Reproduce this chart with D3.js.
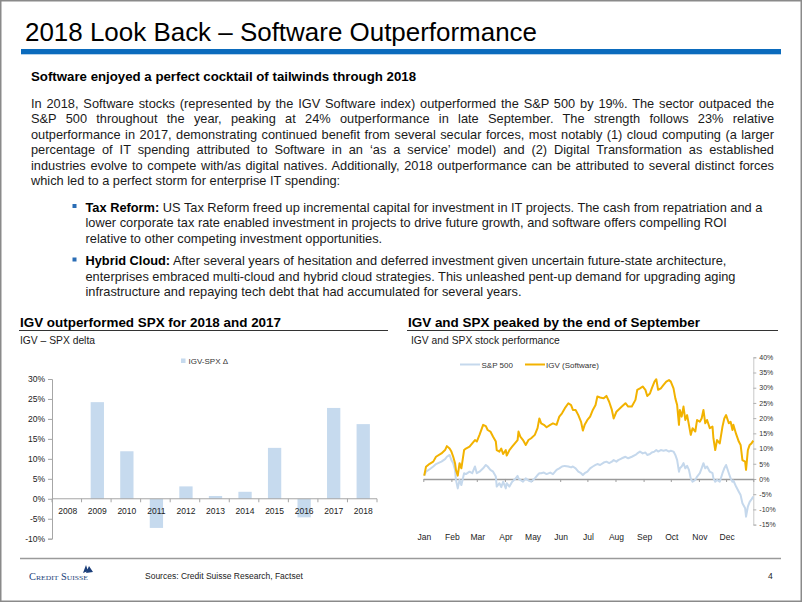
<!DOCTYPE html>
<html><head><meta charset="utf-8">
<script src="https://cdn.jsdelivr.net/npm/d3@7"></script>
<style>
html,body{margin:0;padding:0;background:#fff;}
svg{display:block;font-family:"Liberation Sans",Arial,Helvetica,sans-serif;}
</style></head>
<body>
<svg id="slide" width="802" height="602"></svg>
<script>
// ---------- DATA ----------
const barYears = ["2008","2009","2010","2011","2012","2013","2014","2015","2016","2017","2018"];
const barDelta = [0, 24.2, 11.9, -7.3, 3.1, 0.7, 1.75, 12.75, -4.65, 22.75, 18.7];
const barTicks = [-10,-5,0,5,10,15,20,25,30];

const lineDates = ["01-02","01-04","01-08","01-12","01-15","01-21","01-25","01-27","01-30","02-01",
"02-03","02-05","02-06","02-08","02-10","02-12","02-15","02-17","02-21","02-24",
"02-27","03-01","03-04","03-08","03-11","03-13","03-16","03-19","03-22","03-23",
"03-26","03-28","03-30","04-02","04-03","04-06","04-09","04-12","04-15","04-16",
"04-18","04-21","04-24","04-27","04-30","05-04","05-07","05-09","05-11","05-14",
"05-17","05-21","05-24","05-28","05-31","06-03","06-06","06-10","06-13","06-15",
"06-18","06-21","06-24","06-26","06-28","07-01","07-04","07-07","07-10","07-12",
"07-15","07-19","07-22","07-25","07-28","07-30","08-02","08-04","08-08","08-12",
"08-15","08-19","08-23","08-25","08-28","08-31","09-03","09-05","09-08","09-10",
"09-13","09-15","09-17","09-20","09-23","09-26","09-29","10-01","10-04","10-06",
"10-08","10-10","10-11","10-13","10-15","10-17","10-19","10-21","10-23","10-25",
"10-28","10-30","11-02","11-04","11-06","11-08","11-10","11-13","11-16","11-17",
"11-19","11-21","11-24","11-27","11-29","12-01","12-04","12-06","12-08","12-09",
"12-12","12-15","12-17","12-19","12-22","12-23","12-25","12-27","12-29","12-31"];
const igv = [1.1,4.0,5.0,5.7,7.3,8.4,9.5,10.8,10.0,9.0,
7.3,5.2,3.0,1.1,5.2,3.5,9.5,10.0,10.6,11.7,
12.8,12.3,14.5,17.8,17.4,16.1,15.6,13.9,12.3,9.5,
9.0,10.0,8.2,9.5,7.7,9.5,10.6,11.7,12.8,15.6,
13.9,12.8,11.2,12.8,13.4,14.5,16.7,19.9,18.3,17.8,
17.0,17.8,18.3,17.8,20.5,21.6,23.2,24.9,24.3,22.7,
22.7,21.0,18.8,15.9,17.8,19.4,20.5,22.7,24.3,27.1,
26.8,26.5,27.3,25.4,22.7,19.9,22.1,22.7,23.8,24.9,
23.8,23.8,26.0,29.3,29.8,30.4,29.3,27.3,28.1,29.8,
32.0,32.8,29.3,29.8,30.9,32.0,32.5,32.0,29.8,26.5,
24.3,17.8,22.7,20.5,23.8,19.4,21.0,17.8,14.5,16.7,
15.6,19.4,18.8,19.9,22.7,18.3,19.4,16.7,17.2,13.4,
9.5,12.8,11.7,17.2,19.9,21.0,18.3,18.8,16.1,17.8,
14.8,12.3,11.2,6.2,5.7,3.0,9.5,11.2,11.7,12.6];
const spx = [1.1,2.4,3.2,4.1,4.9,5.7,6.5,7.3,7.9,6.2,
5.2,3.0,-0.3,-3.1,-0.3,-2.0,1.9,1.6,2.4,1.9,
4.1,1.9,2.4,3.5,4.6,4.1,3.0,2.4,0.8,-2.5,
-1.4,-2.7,-0.9,-3.1,-1.4,-2.5,-0.9,-0.1,1.0,0.2,
-0.3,-0.9,0.2,-0.5,-0.9,0.2,1.3,1.9,1.9,2.1,
1.6,2.1,1.6,3.0,3.5,4.1,4.3,4.1,3.8,4.1,
3.5,2.4,1.9,1.3,1.9,2.4,3.5,4.1,4.6,4.9,
4.6,5.4,5.7,5.2,5.7,6.2,5.7,6.2,6.8,7.3,
6.8,7.3,7.9,8.4,9.0,8.4,8.7,7.9,8.2,8.7,
9.0,9.5,9.0,9.5,9.3,9.5,9.0,9.3,9.0,7.9,
6.2,2.4,3.5,4.1,5.2,3.5,4.3,3.0,0.2,-0.9,
-0.3,0.8,1.9,3.5,5.2,3.5,4.1,2.4,1.9,0.2,
-0.9,-0.3,-0.9,1.9,3.5,4.6,1.9,0.2,-0.9,-0.5,
-2.5,-4.2,-5.3,-8.0,-9.6,-12.4,-9.1,-7.5,-6.7,-5.8];
const lineTicks = [-15,-10,-5,0,5,10,15,20,25,30,35,40];
const monthLabels = ["Jan","Feb","Mar","Apr","May","Jun","Jul","Aug","Sep","Oct","Nov","Dec"];

// ---------- TEXT ----------
const titleText = "2018 Look Back – Software Outperformance";
const leadText = "Software enjoyed a perfect cocktail of tailwinds through 2018";
const paraLines = [
"In 2018, Software stocks (represented by the IGV Software index) outperformed the S&P 500 by 19%. The sector outpaced the",
"S&P 500 throughout the year, peaking at 24% outperformance in late September. The strength follows 23% relative",
"outperformance in 2017, demonstrating continued benefit from several secular forces, most notably (1) cloud computing (a larger",
"percentage of IT spending attributed to Software in an ‘as a service’ model) and (2) Digital Transformation as established",
"industries evolve to compete with/as digital natives. Additionally, 2018 outperformance can be attributed to several distinct forces",
"which led to a perfect storm for enterprise IT spending:"];
const bullets = [
 {head:"Tax Reform:", lines:[" US Tax Reform freed up incremental capital for investment in IT projects. The cash from repatriation and a",
   "lower corporate tax rate enabled investment in projects to drive future growth, and software offers compelling ROI",
   "relative to other competing investment opportunities."]},
 {head:"Hybrid Cloud:", lines:[" After several years of hesitation and deferred investment given uncertain future-state architecture,",
   "enterprises embraced multi-cloud and hybrid cloud strategies. This unleashed pent-up demand for upgrading aging",
   "infrastructure and repaying tech debt that had accumulated for several years."]}
];

const svg = d3.select("#slide");
const ink = "#1a1a1a";
const bodySize = 12.8;

// slide frame
svg.append("rect").attr("x",0.75).attr("y",0.75).attr("width",800.5).attr("height",600.5)
  .attr("fill","none").attr("stroke","#8a8a8a").attr("stroke-width",1.5);

// title
svg.append("text").attr("x",25).attr("y",41).attr("font-size",25).attr("fill","#000")
  .attr("textLength",512).attr("lengthAdjust","spacingAndGlyphs").text(titleText);
svg.append("rect").attr("x",21).attr("y",49).attr("width",760).attr("height",5.3).attr("fill","#0b6bbd");

// lead
svg.append("text").attr("x",31).attr("y",80.5).attr("font-size",12).attr("font-weight","bold")
  .attr("fill","#000").attr("textLength",385).attr("lengthAdjust","spacingAndGlyphs").text(leadText);

// paragraph, justified
const paraY = [107.5,123,138.5,154,169.5,185];
paraLines.forEach((ln,i)=>{
  const t = svg.append("text").attr("x",31).attr("y",paraY[i]).attr("font-size",bodySize).attr("fill",ink).text(ln);
  if(i < paraLines.length-1){
    const w = t.node().getComputedTextLength();
    const spaces = (ln.match(/ /g)||[]).length;
    let ws = (743 - w)/spaces;
    if(ws >= -0.8){ t.attr("word-spacing", ws); }
    else { t.attr("word-spacing",-0.8).attr("textLength",743).attr("lengthAdjust","spacingAndGlyphs"); }
  }
});

// bullets
const bulletY = [[211.5,227,242.5],[265,280.5,296]];
bullets.forEach((b,bi)=>{
  svg.append("rect").attr("x",72.5).attr("y",bulletY[bi][0]-7.5).attr("width",4).attr("height",4).attr("fill","#2a6db5");
  b.lines.forEach((ln,li)=>{
    const t = svg.append("text").attr("x",85.5).attr("y",bulletY[bi][li]).attr("font-size",bodySize).attr("fill",ink);
    if(li===0){ t.append("tspan").attr("font-weight","bold").attr("fill","#000").text(b.head); }
    t.append("tspan").text(ln);
  });
});

// chart headings
function heading(x, x2, t1, w1, t2){
  svg.append("text").attr("x",x).attr("y",327).attr("font-size",13).attr("font-weight","bold").attr("fill","#000")
    .attr("textLength",w1).attr("lengthAdjust","spacingAndGlyphs").text(t1);
  svg.append("line").attr("x1",x-1).attr("x2",x2).attr("y1",330.5).attr("y2",330.5).attr("stroke","#333").attr("stroke-width",1.2);
  svg.append("text").attr("x",x+(x>300?3:0)).attr("y",344).attr("font-size",10.3).attr("fill",ink).text(t2);
}
heading(20, 388, "IGV outperformed SPX for 2018 and 2017", 261, "IGV – SPX delta");
heading(408, 778, "IGV and SPX peaked by the end of September", 292, "IGV and SPX stock performance");

// bottom rule + footer
svg.append("line").attr("x1",20).attr("x2",781).attr("y1",558.5).attr("y2",558.5).attr("stroke","#9a9a9a").attr("stroke-width",1.5);
svg.append("text").attr("x",145).attr("y",579).attr("font-size",8.5).attr("fill","#222").text("Sources: Credit Suisse Research, Factset");
svg.append("text").attr("x",768).attr("y",579).attr("font-size",8.5).attr("fill","#222").text("4");
// logo
const logo = svg.append("g");
logo.append("text").attr("x",29).attr("y",580).attr("font-family","'Liberation Serif',serif").attr("font-size",9.5)
  .attr("fill","#1c3f7a").attr("font-variant","small-caps").attr("textLength",59).attr("lengthAdjust","spacingAndGlyphs").text("Credit Suisse");
logo.append("path").attr("d","M83,573 L86,565 L88,571 Z M86,573 L89,566 L93,572 Z").attr("fill","#1c3f7a");

// ---------- BAR CHART ----------
const bx = d3.scaleBand().domain(barYears).range([52,377]).paddingInner(0.55).paddingOuter(0.275);
const by = d3.scaleLinear().domain([-10,30]).range([538.7,379]);
const barCol = "#c6daee";
const axisCol = "#a6a6a6";

const gyA = svg.append("g").attr("transform","translate(52,0)")
  .call(d3.axisLeft(by).tickValues(barTicks).tickSize(4).tickPadding(3).tickFormat(d=>d+"%"));
gyA.select(".domain").attr("stroke",axisCol);
gyA.selectAll(".tick line").attr("stroke",axisCol);
gyA.selectAll("text").attr("font-size",8.5).attr("fill","#222").attr("font-family","'Liberation Sans',Arial,sans-serif");

svg.append("g").selectAll("rect").data(barYears).join("rect")
  .attr("x",d=>bx(d)+1).attr("width",bx.bandwidth())
  .attr("y",(d,i)=>by(Math.max(0,barDelta[i])))
  .attr("height",(d,i)=>Math.abs(by(barDelta[i])-by(0)))
  .attr("fill",barCol);

const gxA = svg.append("g").attr("transform",`translate(0,${by(0)})`);
gxA.append("line").attr("x1",52).attr("x2",377).attr("stroke",axisCol);
gxA.selectAll("line.tk").data(d3.range(barYears.length+1)).join("line").attr("class","tk")
  .attr("x1",i=>52+i*bx.step()).attr("x2",i=>52+i*bx.step()).attr("y1",0).attr("y2",3.5).attr("stroke",axisCol);
gxA.selectAll("text").data(barYears).join("text")
  .attr("x",d=>bx(d)+bx.bandwidth()/2+1).attr("y",15).attr("text-anchor","middle")
  .attr("font-size",8.5).attr("fill","#222").text(d=>d);

// legend
svg.append("rect").attr("x",181).attr("y",358.5).attr("width",4.5).attr("height",4.5).attr("fill",barCol);
svg.append("text").attr("x",188.5).attr("y",363.5).attr("font-size",8).attr("fill","#333").text("IGV-SPX Δ");

// ---------- LINE CHART ----------
const parse = d3.timeParse("%Y-%m-%d");
const dts = lineDates.map(s=>parse("2018-"+s));
const lx = d3.scaleTime().domain([new Date(2018,0,1), new Date(2018,11,31)]).range([423.3,753.3]);
const ly = d3.scaleLinear().domain([-15,40]).range([524.6,357.3]);

const gR = svg.append("g").attr("transform","translate(753.3,0)")
  .call(d3.axisRight(ly).tickValues(lineTicks).tickSize(3).tickPadding(3).tickFormat(d=>d+"%"));
gR.select(".domain").attr("stroke","#c8c8c8");
gR.selectAll(".tick line").attr("stroke","#b0b0b0");
gR.selectAll("text").attr("font-size",7).attr("fill","#333").attr("font-family","'Liberation Sans',Arial,sans-serif");

const months = monthLabels.map((m,i)=>new Date(2018,i,1));
const gZ = svg.append("g").attr("transform",`translate(0,${ly(0)})`)
  .call(d3.axisBottom(lx).tickValues(months.concat([new Date(2018,11,31)])).tickSize(3).tickSizeOuter(0).tickFormat(""));
gZ.select(".domain").attr("stroke","#9a9a9a").attr("stroke-width",1.5);
gZ.selectAll(".tick line").attr("stroke","#9a9a9a");

svg.append("g").selectAll("text").data(monthLabels).join("text")
  .attr("x",(d,i)=>lx(months[i])+1).attr("y",540).attr("text-anchor","middle")
  .attr("font-size",8.5).attr("fill","#222").text(d=>d);

const lineGen = vals => d3.line().x((d,i)=>lx(dts[i])).y(d=>ly(d))(vals);
svg.append("path").attr("d",lineGen(spx)).attr("fill","none").attr("stroke","#c5d8ec").attr("stroke-width",2).attr("stroke-linejoin","round");
svg.append("path").attr("d",lineGen(igv)).attr("fill","none").attr("stroke","#f2b200").attr("stroke-width",2).attr("stroke-linejoin","round");

// legend
svg.append("line").attr("x1",460).attr("x2",480).attr("y1",364.5).attr("y2",364.5).attr("stroke","#c5d8ec").attr("stroke-width",2);
svg.append("text").attr("x",481.5).attr("y",367.5).attr("font-size",8).attr("fill","#333").text("S&P 500");
svg.append("line").attr("x1",525).attr("x2",545).attr("y1",364.5).attr("y2",364.5).attr("stroke","#f2b200").attr("stroke-width",2);
svg.append("text").attr("x",546).attr("y",367.5).attr("font-size",8).attr("fill","#333").text("IGV (Software)");
</script>
</body></html>
